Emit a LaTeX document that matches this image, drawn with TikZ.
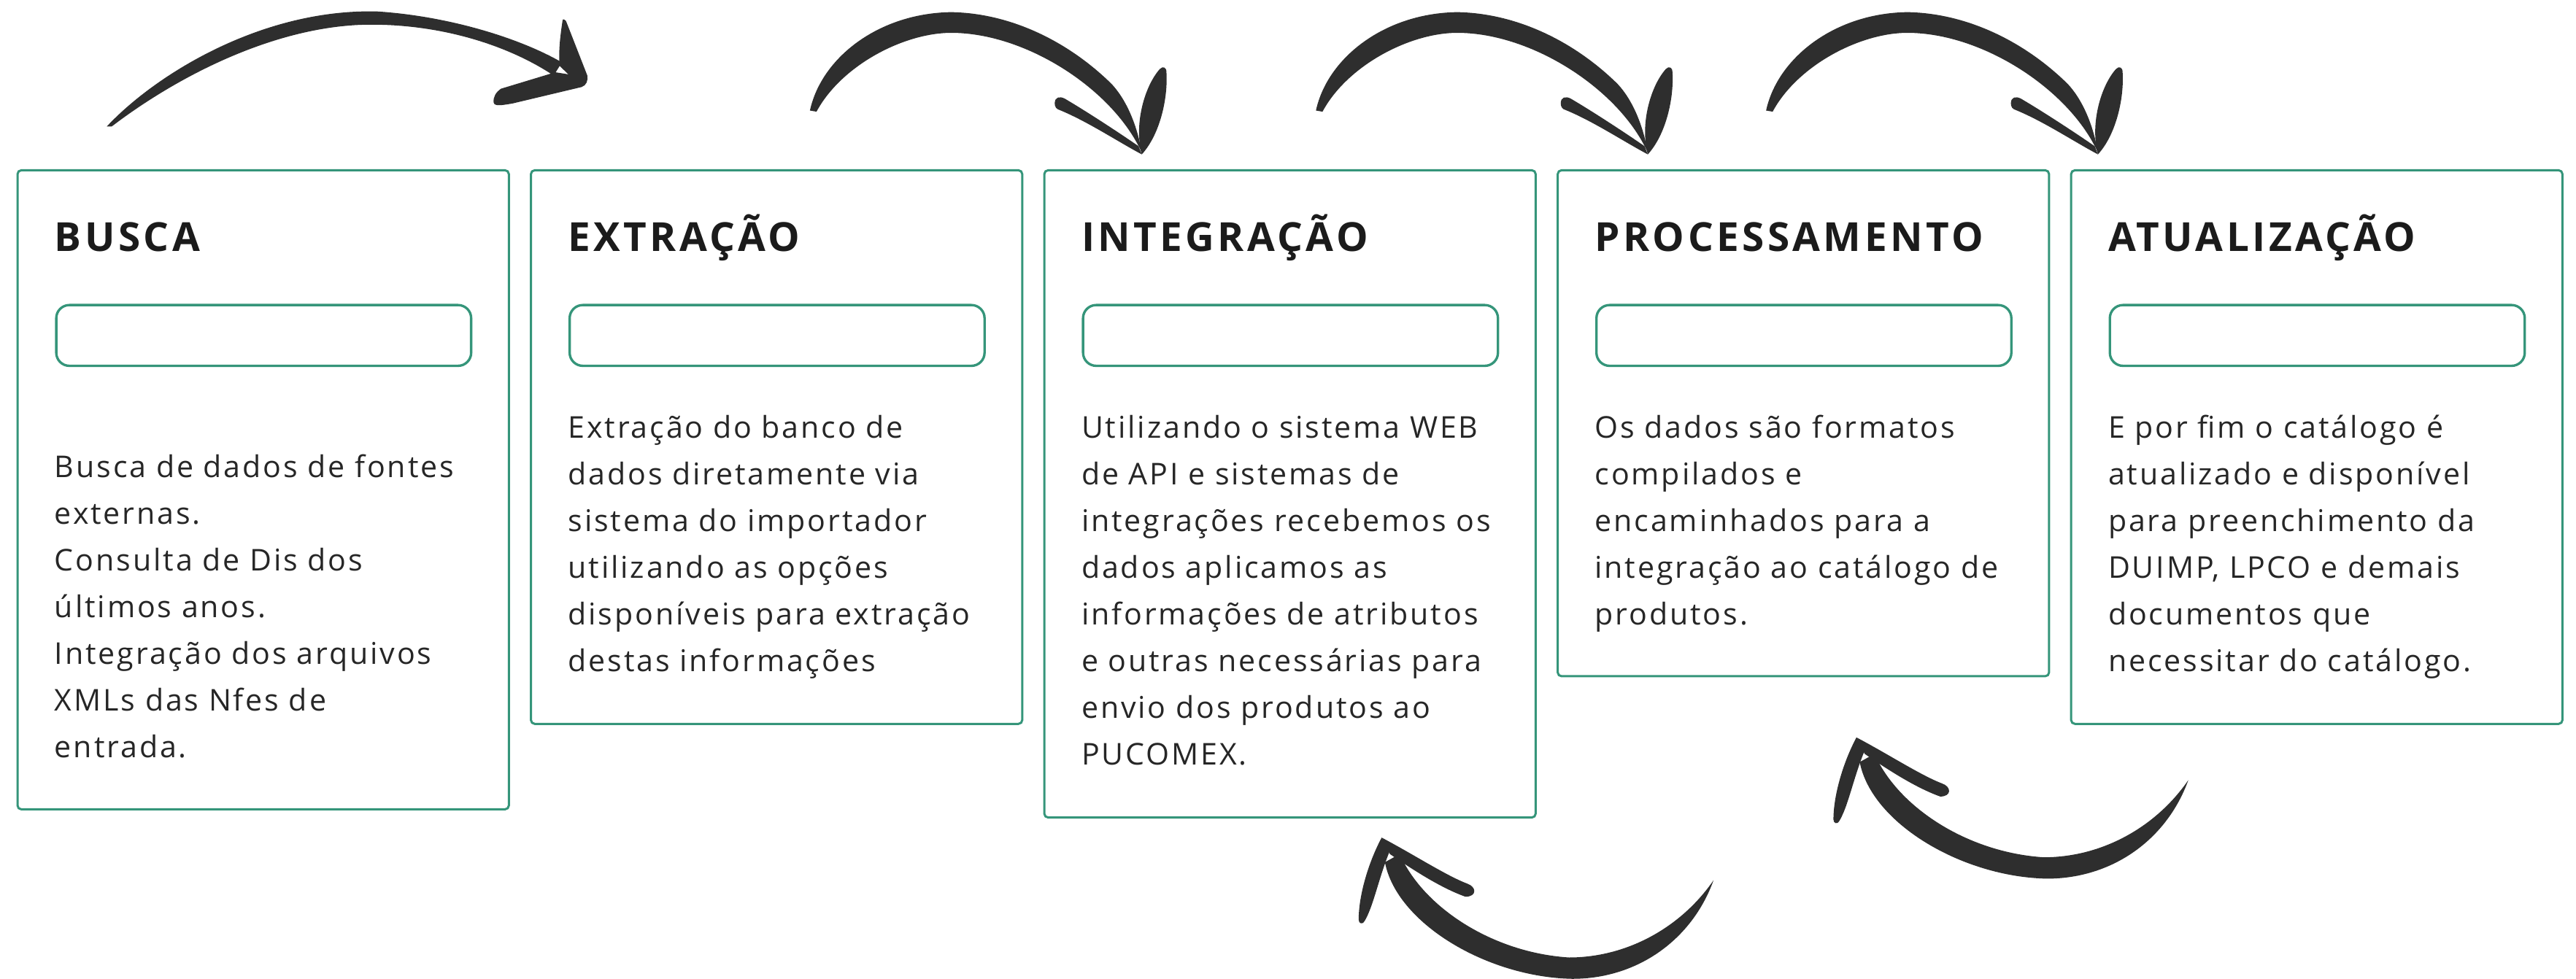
\documentclass[tikz,border=0pt]{standalone}
\usepackage{fontspec}
\setmainfont{Open Sans}
\newfontfamily\cardfont{Open Sans}[LetterSpace=7]
\newfontfamily\headfont{Open Sans}[LetterSpace=8]
\definecolor{cardgreen}{HTML}{35957A}
\definecolor{inkgray}{HTML}{2E2E2E}
\definecolor{headblack}{HTML}{1B1B1B}
\definecolor{bodygray}{HTML}{262626}
\tikzset{
  card/.style={draw=cardgreen, line width=0.85pt, rounded corners=1.5pt, anchor=north west, minimum width=6.731cm, inner sep=0pt},
  head/.style={anchor=base west, inner sep=0pt, text=headblack, font=\headfont\bfseries\fontsize{15.6pt}{18pt}\selectfont},
  pill/.style={draw=cardgreen, line width=0.95pt, rounded corners=0.18cm, anchor=north west, minimum width=5.684cm, minimum height=0.833cm, inner sep=0pt},
  body/.style={anchor=north west, inner sep=0pt, align=left, text=bodygray, font=\cardfont\fontsize{11.7pt}{18.2pt}\selectfont},
  ink/.style={fill=inkgray, draw=none}
}
\begin{document}
\begin{tikzpicture}[x=0.022513cm, y=-0.022513cm]
  \useasboundingbox (0,0) rectangle (1568,596);

  % cartoes
  \node[card, minimum height=8.758cm] (busca) at (10,103) {};
  \node[card, minimum height=7.587cm] (extracao) at (322.5,103) {};
  \node[card, minimum height=8.870cm] (integracao) at (635,103) {};
  \node[card, minimum height=6.934cm] (processamento) at (947.5,103) {};
  \node[card, minimum height=7.587cm] (atualizacao) at (1260,103) {};

  % titulos
  \node[head] (busca-t) at ([shift={(23,50)}]busca.north west) {BUSCA};
  \node[head] (extracao-t) at ([shift={(23,50)}]extracao.north west) {EXTRAÇÃO};
  \node[head] (integracao-t) at ([shift={(23,50)}]integracao.north west) {INTEGRAÇÃO};
  \node[head] (processamento-t) at ([shift={(23,50)}]processamento.north west) {PROCESSAMENTO};
  \node[head] (atualizacao-t) at ([shift={(23,50)}]atualizacao.north west) {ATUALIZAÇÃO};

  % caixas vazias
  \foreach \c in {busca,extracao,integracao,processamento,atualizacao}
    \node[pill] (\c-pill) at ([shift={(23.5,82)}]\c.north west) {};

  % textos
  \node[body] (busca-txt) at ([shift={(23,167.6)}]busca.north west)
    {\strut Busca de dados de fontes\\externas.\\Consulta de Dis dos\\últimos anos.\\Integração dos arquivos\\XMLs das Nfes de\\entrada.};
  \node[body] (extracao-txt) at ([shift={(23,143.6)}]extracao.north west)
    {\strut Extração do banco de\\dados diretamente via\\sistema do importador\\utilizando as opções\\disponíveis para extração\\destas informações};
  \node[body] (integracao-txt) at ([shift={(23,143.6)}]integracao.north west)
    {\strut Utilizando o sistema WEB\\de API e sistemas de\\integrações recebemos os\\dados aplicamos as\\informações de atributos\\e outras necessárias para\\envio dos produtos ao\\PUCOMEX.};
  \node[body] (processamento-txt) at ([shift={(23,143.6)}]processamento.north west)
    {\strut Os dados são formatos\\compilados e\\encaminhados para a\\integração ao catálogo de\\produtos.};
  \node[body] (atualizacao-txt) at ([shift={(23,143.6)}]atualizacao.north west)
    {\strut E por fim o catálogo é\\atualizado e disponível\\para preenchimento da\\DUIMP, LPCO e demais\\documentos que\\necessitar do catálogo.};

  % seta busca -> extracao
  \fill[ink] (65,77) .. controls (95,45) and (160,5) .. (230,7) .. controls (275,10) and (318,24) .. (342,38)
     -- (337,46) .. controls (310,28) and (270,15) .. (226,15) .. controls (170,15) and (110,45) .. (68,77) -- cycle;
  \fill[ink] (342.5,12) .. controls (341,22) and (340,30) .. (340.5,40) -- (354,53) .. controls (357,52) and (358,49) .. (357.5,46)
     -- (345,14) .. controls (344.5,12) and (343,11.5) .. (342.5,12) -- cycle;
  \fill[ink] (300.5,62.5) .. controls (300,59) and (302,56) .. (305,54) -- (338,44) -- (357,47) -- (354,53)
     -- (312,63) .. controls (306,64) and (301,65) .. (300.5,62.5) -- cycle;

  % setas grossas de cima
  \foreach \s in {0,308,582}{
    \begin{scope}[shift={(\s,0)}]
      \fill[ink] (493,67.3) .. controls (500,35) and (535,8) .. (579,7.4) .. controls (615,8) and (650,25) .. (676.5,51)
         .. controls (685,60) and (692,75) .. (695,93)
         .. controls (678,55) and (625,20) .. (579,20) .. controls (550,20) and (512,40) .. (497,68) -- cycle;
      \fill[ink] (706,42) .. controls (708,40) and (710,41) .. (710,44) .. controls (711,60) and (706,82) .. (695,94)
         .. controls (690,75) and (697,52) .. (706,42) -- cycle;
      \fill[ink] (642,63) .. controls (642,59) and (645,58.5) .. (648,60) .. controls (660,67) and (680,80) .. (693,89)
         -- (695,94) .. controls (680,86) and (662,74) .. (645,67) .. controls (643,66.5) and (642,65) .. (642,63) -- cycle;
    \end{scope}
  }

  % setas de baixo (voltando)
  \foreach \dx/\dy in {0/0,289/-61}{
    \begin{scope}[shift={(\dx,\dy)}]
      \fill[ink] (843,525) .. controls (850,562) and (905,595) .. (957,596) .. controls (997,596) and (1030,572) .. (1043,536)
         .. controls (1023,565) and (990,583) .. (955,583) .. controls (908,580) and (866,552) .. (852,520) -- cycle;
      \fill[ink] (841,510) .. controls (833,525) and (827,545) .. (827,560) .. controls (827,562.5) and (829.5,563) .. (830.5,561)
         .. controls (836,552) and (839,535) .. (846,518) -- cycle;
      \fill[ink] (841,510) .. controls (860,520) and (880,533) .. (893,538) .. controls (899,540) and (899,546) .. (892,546)
         .. controls (878,541) and (862,531) .. (846,520) -- cycle;
    \end{scope}
  }
\end{tikzpicture}
\end{document}
